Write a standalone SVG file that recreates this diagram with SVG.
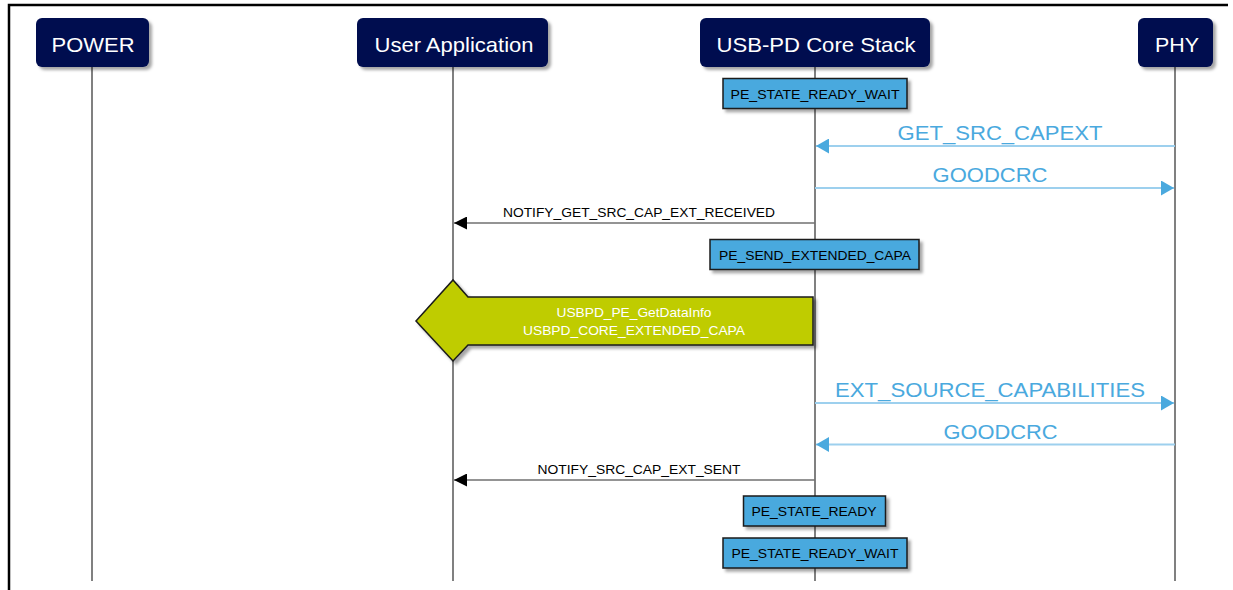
<svg xmlns="http://www.w3.org/2000/svg" width="1233" height="590" viewBox="0 0 1233 590">
<defs>
<style>
.hdr{fill:#050B4F}
.hdrt{fill:#fff;font-family:"Liberation Sans",Arial,sans-serif;font-size:21px;text-anchor:middle}
.life{stroke:#808080;stroke-width:2;fill:none}
.st{fill:#4AA9DE;stroke:#1a1a1a;stroke-width:1.5}
.stt{fill:#000;font-family:"Liberation Sans",Arial,sans-serif;font-size:13px;text-anchor:middle}
.blu{stroke:#9DD0EE;stroke-width:2;fill:none}
.blk{stroke:#707070;stroke-width:1.5;fill:none}
.blut{fill:#4AA9DE;font-family:"Liberation Sans",Arial,sans-serif;font-size:20px;text-anchor:middle}
.blkt{fill:#000;font-family:"Liberation Sans",Arial,sans-serif;font-size:13px;text-anchor:middle}
.wt{fill:#fff;font-family:"Liberation Sans",Arial,sans-serif;font-size:13px;text-anchor:middle}
</style>
<filter id="sh" x="-10%" y="-20%" width="130%" height="160%">
<feDropShadow dx="3" dy="3" stdDeviation="1.5" flood-color="#000" flood-opacity="0.35"/>
</filter>
<marker id="ab" markerWidth="13" markerHeight="15" refX="13" refY="7.5" orient="auto" markerUnits="userSpaceOnUse">
<path d="M0,0 L13,7.5 L0,15 Z" fill="#4AA9DE"/>
</marker>
<marker id="ak" markerWidth="13" markerHeight="13" refX="13" refY="6.5" orient="auto" markerUnits="userSpaceOnUse">
<path d="M0,0 L13,6.5 L0,13 Z" fill="#000"/>
</marker>
</defs>
<rect width="1233" height="590" fill="#fff"/>
<path d="M9,590 V5 H1228" stroke="#000" stroke-width="2.5" fill="none"/>

<g id="lifelines">
<line class="life" x1="92" y1="66" x2="92" y2="581"/>
<line class="life" x1="453" y1="66" x2="453" y2="581"/>
<line class="life" x1="815" y1="66" x2="815" y2="581"/>
<line class="life" x1="1175" y1="66" x2="1175" y2="581"/>
</g>

<g id="power">
<rect class="hdr" x="36" y="18" width="113" height="49" rx="6" filter="url(#sh)"/>
<text class="hdrt" x="93" y="52" textLength="83" lengthAdjust="spacingAndGlyphs">POWER</text>
</g>
<g id="user-application">
<rect class="hdr" x="357" y="18" width="191" height="49" rx="6" filter="url(#sh)"/>
<text class="hdrt" x="454" y="52" textLength="159" lengthAdjust="spacingAndGlyphs">User Application</text>
</g>
<g id="core-stack">
<rect class="hdr" x="700" y="18" width="230" height="49" rx="6" filter="url(#sh)"/>
<text class="hdrt" x="816" y="52" textLength="199" lengthAdjust="spacingAndGlyphs">USB-PD Core Stack</text>
</g>
<g id="phy">
<rect class="hdr" x="1138" y="18" width="75" height="49" rx="6" filter="url(#sh)"/>
<text class="hdrt" x="1177" y="52" textLength="44" lengthAdjust="spacingAndGlyphs">PHY</text>
</g>

<g id="state-ready-wait-1">
<rect class="st" x="723" y="78.5" width="184" height="30" filter="url(#sh)"/>
<text class="stt" x="815" y="99" textLength="169" lengthAdjust="spacingAndGlyphs">PE_STATE_READY_WAIT</text>
</g>
<g id="state-send-extended-capa">
<rect class="st" x="710" y="239.5" width="209" height="30" filter="url(#sh)"/>
<text class="stt" x="815" y="259.5" textLength="192" lengthAdjust="spacingAndGlyphs">PE_SEND_EXTENDED_CAPA</text>
</g>
<g id="get-data-info">
<polygon points="416,321 453,280 468,297 813,297 813,345 468,345 453,361" fill="#BFCC00" stroke="#1a1a1a" stroke-width="1.5" filter="url(#sh)"/>
<text class="wt" x="634" y="317" textLength="155" lengthAdjust="spacingAndGlyphs">USBPD_PE_GetDataInfo</text>
<text class="wt" x="634" y="334.5" textLength="222" lengthAdjust="spacingAndGlyphs">USBPD_CORE_EXTENDED_CAPA</text>
</g>
<g id="state-ready">
<rect class="st" x="743.5" y="496" width="142" height="30" filter="url(#sh)"/>
<text class="stt" x="814" y="516" textLength="125" lengthAdjust="spacingAndGlyphs">PE_STATE_READY</text>
</g>
<g id="state-ready-wait-2">
<rect class="st" x="723" y="538" width="184" height="30" filter="url(#sh)"/>
<text class="stt" x="815" y="557.5" textLength="167" lengthAdjust="spacingAndGlyphs">PE_STATE_READY_WAIT</text>
</g>

<g id="connectors">
<line class="blu" x1="1175" y1="146" x2="816" y2="146" marker-end="url(#ab)"/>
<text class="blut" x="1000" y="139.5" textLength="205" lengthAdjust="spacingAndGlyphs">GET_SRC_CAPEXT</text>
<line class="blu" x1="815" y1="188" x2="1174" y2="188" marker-end="url(#ab)"/>
<text class="blut" x="990" y="182" textLength="115" lengthAdjust="spacingAndGlyphs">GOODCRC</text>
<line class="blk" x1="815" y1="223" x2="454" y2="223" marker-end="url(#ak)"/>
<text class="blkt" x="639" y="217" textLength="272" lengthAdjust="spacingAndGlyphs">NOTIFY_GET_SRC_CAP_EXT_RECEIVED</text>
<line class="blu" x1="815" y1="403" x2="1174" y2="403" marker-end="url(#ab)"/>
<text class="blut" x="990" y="397" textLength="310" lengthAdjust="spacingAndGlyphs">EXT_SOURCE_CAPABILITIES</text>
<line class="blu" x1="1175" y1="444.5" x2="816" y2="444.5" marker-end="url(#ab)"/>
<text class="blut" x="1000.5" y="438.5" textLength="114" lengthAdjust="spacingAndGlyphs">GOODCRC</text>
<line class="blk" x1="815" y1="480" x2="454" y2="480" marker-end="url(#ak)"/>
<text class="blkt" x="639" y="474" textLength="203" lengthAdjust="spacingAndGlyphs">NOTIFY_SRC_CAP_EXT_SENT</text>
</g>
</svg>
